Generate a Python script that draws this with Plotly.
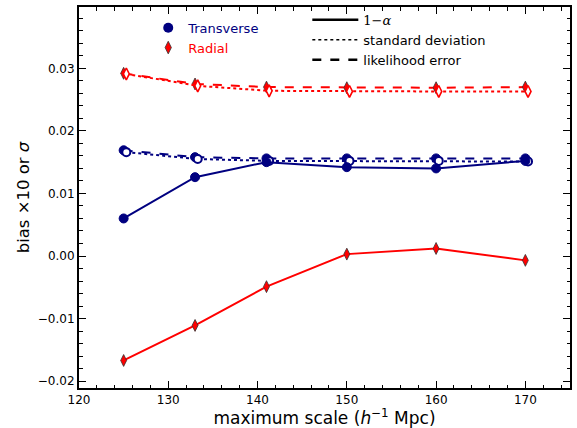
import plotly.graph_objects as go

# ---- data ----
scale = [125, 133, 141, 150, 160, 170]
scale_std = [125.3, 133.3, 141.3, 150.3, 160.3, 170.3]

trans_bias = [0.0060, 0.0126, 0.0150, 0.0142, 0.0140, 0.0152]
trans_std = [0.0166, 0.0155, 0.0152, 0.0152, 0.0152, 0.0151]
trans_lik = [0.0169, 0.0158, 0.0156, 0.0156, 0.0156, 0.0156]

rad_bias = [-0.0167, -0.0111, -0.0049, 0.0003, 0.0012, -0.0007]
rad_std = [0.0291, 0.0272, 0.0264, 0.0263, 0.0263, 0.0263]
rad_lik = [0.0292, 0.0275, 0.0270, 0.0269, 0.0269, 0.0270]

NAVY = "#000080"
RED = "#ff0000"
FONT = "DejaVu Sans"
DSIZE = 8.5

fig = go.Figure()

# Transverse
fig.add_trace(go.Scatter(x=scale, y=trans_lik, mode="lines+markers",
                         line=dict(color=NAVY, width=2, dash="dash"),
                         marker=dict(symbol="circle", size=9, color=NAVY,
                                     line=dict(color=NAVY, width=1)),
                         showlegend=False))
fig.add_trace(go.Scatter(x=scale_std, y=trans_std, mode="lines+markers",
                         line=dict(color=NAVY, width=2, dash="dot"),
                         marker=dict(symbol="circle", size=8, color="white",
                                     line=dict(color=NAVY, width=2)),
                         showlegend=False))
fig.add_trace(go.Scatter(x=scale, y=trans_bias, mode="lines+markers",
                         line=dict(color=NAVY, width=2),
                         marker=dict(symbol="circle", size=9, color=NAVY,
                                     line=dict(color=NAVY, width=1)),
                         showlegend=False))
# Radial
fig.add_trace(go.Scatter(x=scale, y=rad_lik, mode="lines+markers",
                         line=dict(color=RED, width=2, dash="dash"),
                         marker=dict(symbol="diamond-tall", size=DSIZE, color=RED,
                                     line=dict(color="#333333", width=0.8)),
                         showlegend=False))
fig.add_trace(go.Scatter(x=scale_std, y=rad_std, mode="lines+markers",
                         line=dict(color=RED, width=2, dash="dot"),
                         marker=dict(symbol="diamond-tall", size=DSIZE, color="white",
                                     line=dict(color=RED, width=1.6)),
                         showlegend=False))
fig.add_trace(go.Scatter(x=scale, y=rad_bias, mode="lines+markers",
                         line=dict(color=RED, width=2),
                         marker=dict(symbol="diamond-tall", size=DSIZE, color=RED,
                                     line=dict(color="#333333", width=0.8)),
                         showlegend=False))

# legend 1: series
fig.add_trace(go.Scatter(x=[None], y=[None], mode="markers",
                         name="<span style='color:#000080'>Transverse</span>",
                         marker=dict(symbol="circle", size=10, color=NAVY),
                         legend="legend"))
fig.add_trace(go.Scatter(x=[None], y=[None], mode="markers",
                         name="<span style='color:#ff0000'>Radial</span>",
                         marker=dict(symbol="diamond-tall", size=9, color=RED,
                                     line=dict(color="#333333", width=0.8)),
                         legend="legend"))
# legend 2: line styles
fig.add_trace(go.Scatter(x=[None], y=[None], mode="lines",
                         name="<span style='font-family:DejaVu Serif'>1\u2212<i>\u03b1</i></span>",
                         line=dict(color="black", width=2.5), legend="legend2"))
fig.add_trace(go.Scatter(x=[None], y=[None], mode="lines", name="standard deviation",
                         line=dict(color="black", width=1.5, dash="dot"), legend="legend2"))
fig.add_trace(go.Scatter(x=[None], y=[None], mode="lines", name="likelihood error",
                         line=dict(color="black", width=2.5, dash="dash"), legend="legend2"))

axis_common = dict(
    showline=True, linecolor="black", linewidth=2, mirror="allticks",
    ticks="inside", ticklen=7, tickwidth=1, tickcolor="black",
    showgrid=False, zeroline=False,
    tickfont=dict(family=FONT, size=12, color="black"),
)

fig.update_layout(
    width=577, height=428,
    margin=dict(l=79, r=5, t=7, b=40),
    plot_bgcolor="white", paper_bgcolor="white",
    font=dict(family=FONT, color="black"),
    xaxis=dict(**axis_common, range=[120, 175], dtick=10, tick0=120,
               minor=dict(ticks="inside", ticklen=3.5, dtick=2, tickcolor="black"),
               title=dict(text="maximum scale (<i>h</i><sup>\u22121</sup> Mpc)",
                          font=dict(family=FONT, size=17), standoff=1)),
    yaxis=dict(**axis_common, range=[-0.0211, 0.0398], dtick=0.01, tick0=0,
               tickformat=".2f",
               minor=dict(ticks="inside", ticklen=3.5, dtick=0.002, tickcolor="black"),
               title=dict(text="bias \u00d710 or <i>\u03c3</i>",
                          font=dict(family=FONT, size=16.5), standoff=4)),
    legend=dict(x=0.141, y=0.985, xanchor="left", yanchor="top",
                bgcolor="rgba(0,0,0,0)", borderwidth=0,
                font=dict(family=FONT, size=13), tracegroupgap=0),
    legend2=dict(x=0.465, y=1.0055, xanchor="left", yanchor="top",
                 bgcolor="rgba(0,0,0,0)", borderwidth=0, itemwidth=46,
                 font=dict(family=FONT, size=13, color="black"), tracegroupgap=0),
)

fig.write_html("out.html", config={"displayModeBar": False},
               post_script="document.body.style.margin='0px';document.body.style.padding='0px';")
